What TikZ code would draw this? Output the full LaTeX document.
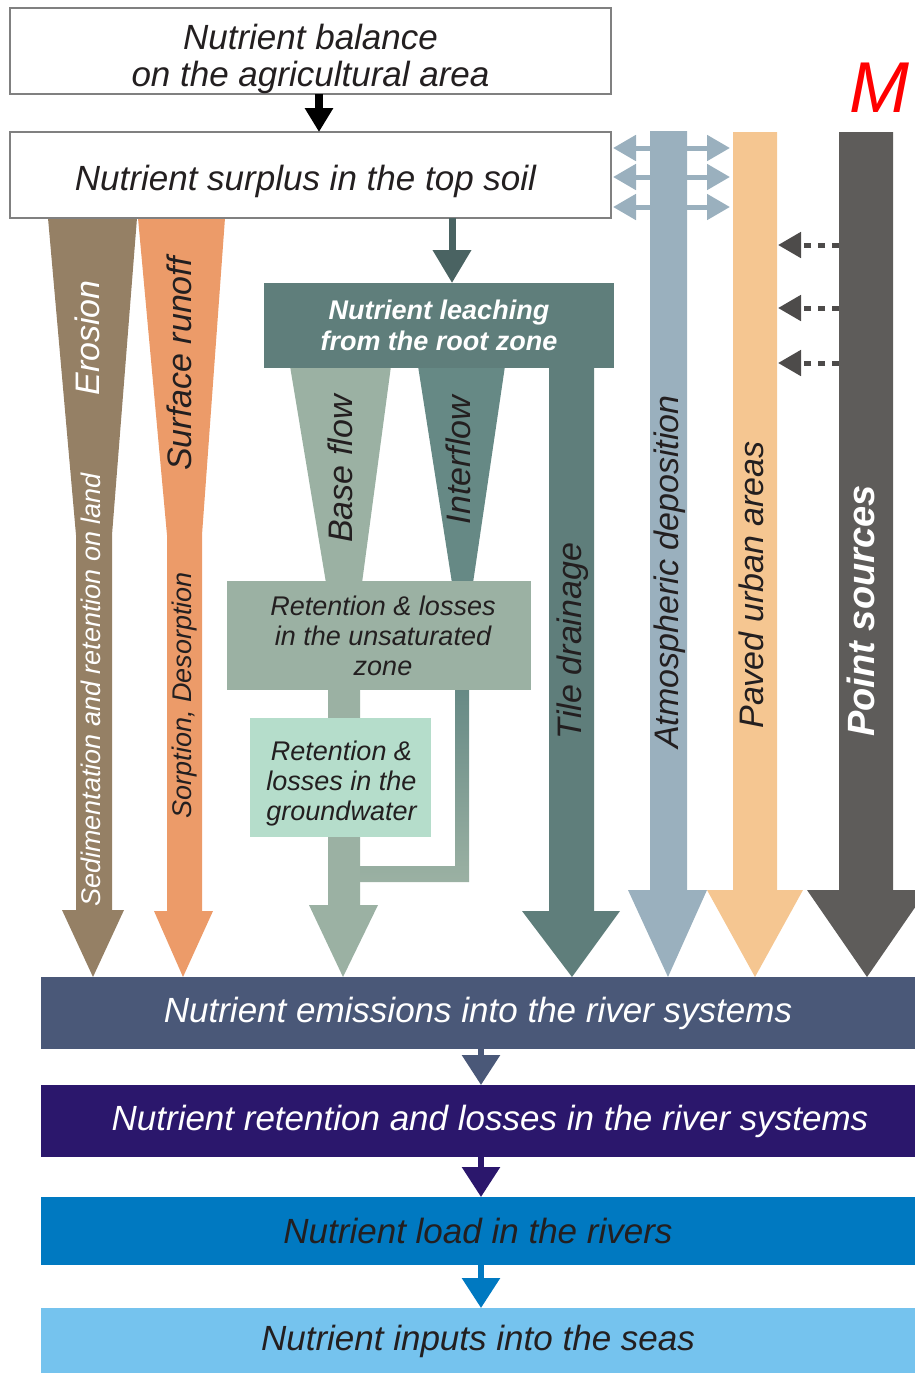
\documentclass[tikz,border=0pt]{standalone}
\usepackage{fontspec}
\setmainfont{Liberation Sans}
\usetikzlibrary{arrows.meta}
\definecolor{cEro}{HTML}{958065}
\definecolor{cRun}{HTML}{EC9B69}
\definecolor{cLeach}{HTML}{5F7E7B}
\definecolor{cInter}{HTML}{668985}
\definecolor{cBase}{HTML}{9BB1A3}
\definecolor{cGw}{HTML}{B5DDCB}
\definecolor{cAtm}{HTML}{9AB0BE}
\definecolor{cPaved}{HTML}{F5C691}
\definecolor{cPoint}{HTML}{5E5C5A}
\definecolor{cEmis}{HTML}{4A5878}
\definecolor{cRret}{HTML}{2B176C}
\definecolor{cLoad}{HTML}{0079C1}
\definecolor{cSeas}{HTML}{75C3EE}
\definecolor{cDark}{HTML}{231F20}
\definecolor{cDarkTeal}{HTML}{4A6362}
\definecolor{cDot}{HTML}{4D4B4A}
\definecolor{cBoxGray}{HTML}{808080}
\begin{document}
\begin{tikzpicture}[x=1pt,y=-1pt,
  every node/.style={inner sep=0pt, outer sep=0pt},
  mainfont/.style={font=\fontsize{35}{37}\selectfont\itshape},
  smallfont/.style={font=\fontsize{27}{30}\selectfont\itshape},
  rotlabel/.style={rotate=90, font=\fontsize{34}{36}\selectfont\itshape, text height=25pt, text depth=7pt},
  rotsmall/.style={rotate=90, font=\fontsize{27}{30}\selectfont\itshape, text height=20pt, text depth=6pt},
  topbox/.style={draw=cBoxGray, line width=2pt, fill=white, minimum width=601pt, minimum height=86pt},
  boxtext/.style={align=center, mainfont, text=cDark},
  band/.style={minimum width=874pt, align=center, mainfont},
  twohead/.style={cAtm, line width=5pt, {Triangle[length=23pt,width=25pt]}-{Triangle[length=23pt,width=25pt]}},
  dotarrow/.style={cDot, line width=5pt, dash pattern=on 7pt off 7pt, -{Triangle[length=23pt,width=25pt]}},
  chainarrow/.style={line width=6pt, -{Triangle[length=30pt,width=37pt]}}
]
\useasboundingbox (0,0) rectangle (915,1373);
\clip (0,0) rectangle (915,1373);

% erosion and surface runoff
\fill[cEro] (48,218) -- (137,218) -- (112,535) -- (112,910) -- (124,910) -- (93,977) -- (62,910) -- (76,910) -- (76,535) -- cycle;
\fill[cRun] (138,218) -- (225,218) -- (202,535) -- (202,911) -- (213,911) -- (183,977) -- (154,911) -- (167,911) -- (167,535) -- cycle;

% tile drainage
\fill[cLeach] (549,360) -- (594,360) -- (594,911) -- (620,911) -- (572,977) -- (522,911) -- (549,911) -- cycle;

% atmospheric deposition with exchange arrows
\foreach \yy in {148,177,207} {
  \draw[twohead] (613,\yy) -- (730,\yy);
}
\fill[cAtm] (650,131) -- (687,131) -- (687,890) -- (707,890) -- (668,977) -- (628,890) -- (650,890) -- cycle;

% paved urban areas
\fill[cPaved] (733,132) -- (777,132) -- (777,890) -- (803,890) -- (755,977) -- (707,890) -- (733,890) -- cycle;

% point sources
\fill[cPoint] (839,132) -- (893,132) -- (893,890) -- (927,890) -- (867,977) -- (807,890) -- (839,890) -- cycle;
\foreach \yy in {245,308,363} {
  \draw[dotarrow] (839,\yy) -- (778,\yy);
}

% base flow and interflow wedges
\fill[cBase] (290,366) -- (391,366) -- (362,583) -- (326,583) -- cycle;
\fill[cInter] (418,366) -- (505,366) -- (473,583) -- (452,583) -- cycle;

% return bar of interflow
\shade[top color=cInter, bottom color=cBase] (455,688) -- (469,688) -- (469,882) -- (358,882) -- (358,866) -- (455,866) -- cycle;

% groundwater shaft
\fill[cBase] (328,688) -- (360,688) -- (360,905) -- (378,905) -- (343,977) -- (309,905) -- (328,905) -- cycle;

% boxes
\node[fill=cBase, minimum width=304pt, minimum height=109pt, align=center, smallfont, text=cDark] (unsat) at (379,635.5) {\hspace*{8pt}Retention \& losses\\\hspace*{8pt}in the unsaturated\\\hspace*{8pt}zone};
\node[fill=cGw, minimum width=181pt, minimum height=119pt] (gw) at (340.5,777.5) {};
\node[align=center, smallfont, text=cDark] (gwtext) at ([xshift=1pt,yshift=-6pt]gw.center) {Retention \&\\losses in the\\groundwater};
\node[fill=cLeach, minimum width=350pt, minimum height=85pt, align=center, font=\fontsize{27}{31}\selectfont\bfseries\itshape, text=white] (leach) at (439,325.5) {Nutrient leaching\\from the root zone};

\node[topbox] (bal) at (310.5,51) {};
\node[boxtext] (baltext) at ([yshift=-8pt]bal.center) {Nutrient balance\\on the agricultural area};
\node[topbox] (sur) at (310.5,175) {};
\node[boxtext] (surtext) at ([xshift=-5pt,yshift=-6pt]sur.center) {Nutrient surplus in the top soil};

\coordinate (cb) at (319,0);
\draw[black, line width=8pt, -{Triangle[length=24pt,width=27pt]}] (bal.south -| cb) -- (sur.north -| cb);
\coordinate (la) at (452,0);
\draw[cDarkTeal, line width=7pt, -{Triangle[length=33pt,width=37pt]}] (sur.south -| la) -- (leach.north -| la);

% bottom chain
\node[band, fill=cEmis, minimum height=72pt, text=white] (emis) at (478,1013) {Nutrient emissions into the river systems};
\node[band, fill=cRret, minimum height=72pt, text=white] (rret) at (478,1121) {\hspace*{24pt}Nutrient retention and losses in the river systems};
\node[band, fill=cLoad, minimum height=68pt, text=cDark] (load) at (478,1231) {Nutrient load in the rivers};
\node[band, fill=cSeas, minimum height=66pt, text=cDark] (seas) at (478,1341) {Nutrient inputs into the seas};

\coordinate (ca) at (481,0);
\draw[cEmis, chainarrow] (emis.south -| ca) -- (rret.north -| ca);
\draw[cRret, chainarrow] (rret.south -| ca) -- (load.north -| ca);
\draw[cLoad, chainarrow] (load.south -| ca) -- (seas.north -| ca);

% rotated labels
\node[rotlabel, text=white] (tero) at (90,338) {Erosion};
\node[rotsmall, text=white] (tsed) at (93,690) {Sedimentation and retention on land};
\node[rotlabel, text=cDark] (trun) at (182,364) {Surface runoff};
\node[rotsmall, text=cDark] (tsor) at (184,695) {Sorption, Desorption};
\node[rotlabel, text=cDark] (tbase) at (343,469) {Base flow};
\node[rotlabel, text=cDark] (tinter) at (461,460) {Interflow};
\node[rotlabel, text=cDark] (ttile) at (572,641) {Tile drainage};
\node[rotlabel, text=cDark] (tatm) at (669,572) {Atmospheric deposition};
\node[rotlabel, text=cDark] (tpav) at (754,585) {Paved urban areas};
\node[rotate=90, font=\fontsize{38}{40}\selectfont\bfseries\itshape, text=white, text height=27pt, text depth=8pt] (tpt) at (865,611) {Point sources};

% red title fragment
\node[anchor=base west, font=\fontsize{72}{72}\selectfont\itshape, text=red] (title) at (849,112) {M};
\end{tikzpicture}
\end{document}
